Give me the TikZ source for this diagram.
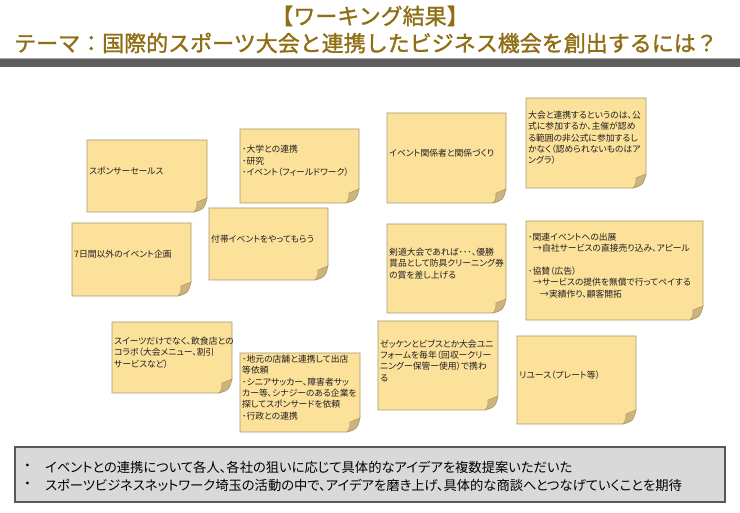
\documentclass[tikz,border=0pt]{standalone}
\usepackage{fontspec}
\setmainfont{Noto Sans CJK JP}
\newfontfamily\jpp[RawFeature=+palt]{Noto Sans CJK JP}
\newfontfamily\jpb[FakeBold=1.3]{Noto Sans CJK JP}
\definecolor{titlec}{HTML}{8F6E14}
\definecolor{barc}{HTML}{5E5E5E}
\definecolor{notefill}{HTML}{FCE19B}
\definecolor{noteline}{HTML}{A89A70}
\definecolor{flapc}{HTML}{CDB47C}
\definecolor{notetxt}{HTML}{1F1F1F}
\definecolor{boxfill}{HTML}{D9D9D9}
\definecolor{boxline}{HTML}{595959}
\tikzset{
  notebox/.style={inner sep=0pt, outer sep=0pt},
  notebody/.style={fill=notefill, draw=noteline, line width=0.6pt},
  noteflap/.style={fill=flapc, draw=noteline, line width=0.5pt},
  notetext/.style={anchor=west, align=left, inner sep=0pt, text=notetxt, font=\jpp\fontsize{8.8}{11.3}\selectfont},
  titletext/.style={inner sep=0pt, text=titlec, font=\jpb\fontsize{22}{26}\selectfont},
  sumbox/.style={inner sep=0pt, outer sep=0pt, fill=boxfill, draw=boxline, line width=2.5pt},
  sumtext/.style={anchor=west, inner sep=0pt, text=black, font=\jpp\fontsize{13.3}{16}\selectfont},
}
\newcommand\stickynote[6]{%
  \node[notebox, minimum width=#4pt, minimum height=#5pt] (#1) at (#2,#3) {};
  \draw[notebody] (#1.north west) -- (#1.north east) -- ([yshift=14pt]#1.south east)
     .. controls ([xshift=-3pt,yshift=3pt]#1.south east) .. ([xshift=-13pt]#1.south east)
     -- (#1.south west) -- cycle;
  \draw[noteflap] ([yshift=14pt]#1.south east)
     .. controls ([xshift=-3pt,yshift=3pt]#1.south east) .. ([xshift=-13pt]#1.south east)
     .. controls ([xshift=-10pt,yshift=4pt]#1.south east) .. ([xshift=-10pt,yshift=10pt]#1.south east)
     -- cycle;
  \node[notetext] (#1t) at ([xshift=2pt,yshift=5pt]#1.west) {#6};
}
\begin{document}
\begin{tikzpicture}[x=1pt,y=-1pt]
\useasboundingbox[fill=white] (0,0) rectangle (740,513);
% title
\node[titletext] (t1) at (370,16) {【ワーキング結果】};
\node[titletext] (t2) at (366,43) {テーマ：国際的スポーツ大会と連携したビジネス機会を創出するには？};
\fill[barc] (0,58) rectangle (740,67);
\draw[gray!70, line width=0.8pt] (0,58.4) -- (740,58.4);
% notes
\stickynote{n1}{147}{176}{120}{72}{スポンサーセールス}
\stickynote{n2}{299.5}{166}{119}{74}{･大学との連携\\･研究\\･イベント（フィールドワーク）}
\stickynote{n3}{131.5}{259.5}{119}{73}{7日間以外のイベント企画}
\stickynote{n4}{268.5}{244}{119}{72}{付帯イベントをやってもらう}
\stickynote{n5}{446.5}{158}{119}{90}{イベント関係者と関係づくり}
\stickynote{n6}{586}{143}{120}{90}{大会と連携するというのは、公\\式に参加するか、主催が認め\\る範囲の非公式に参加するし\\かなく（認められないものはア\\ングラ）}
\stickynote{n7}{446.5}{268.5}{119}{89}{剣道大会であれば･･･、優勝\\賞品として防具クリーニング券\\の賞を差し上げる}
\stickynote{n8}{614.5}{270.5}{177}{99}{･関連イベントへの出展\\\hspace{5pt}→自社サービスの直接売り込み、アピール\\[11.3pt]･協賛（広告）\\\hspace{5pt}→サービスの提供を無償で行ってペイする\\\hspace{12pt}→実績作り、顧客開拓}
\stickynote{n9}{172}{357.5}{120}{71}{スイーツだけでなく、飲食店との\\コラボ（大会メニュー、割引\\サービスなど）}
\stickynote{n10}{300}{392.5}{120}{79}{･地元の店舗と連携して出店\\等依頼\\･シニアサッカー、障害者サッ\\カー等、シナジーのある企業を\\探してスポンサードを依頼\\･行政との連携}
\stickynote{n11}{438}{365.5}{120}{89}{ゼッケンとビブスとか大会ユニ\\フォームを毎年（回収ークリー\\ニングー保管ー使用）で携わ\\る}
\stickynote{n12}{576.5}{380}{119}{88}{リユース（プレート等）}
% summary box
\node[sumbox, minimum width=710pt, minimum height=55pt] (sum) at (370,474.5) {};
\node[sumtext] (b1) at (24,467) {・};
\node[sumtext] (b2) at (24,485) {・};
\node[sumtext] (s1) at (45,467) {イベントとの連携について各人、各社の狙いに応じて具体的なアイデアを複数提案いただいた};
\node[sumtext] (s2) at (45,485) {スポーツビジネスネットワーク埼玉の活動の中で、アイデアを磨き上げ、具体的な商談へとつなげていくことを期待};
\end{tikzpicture}
\end{document}
